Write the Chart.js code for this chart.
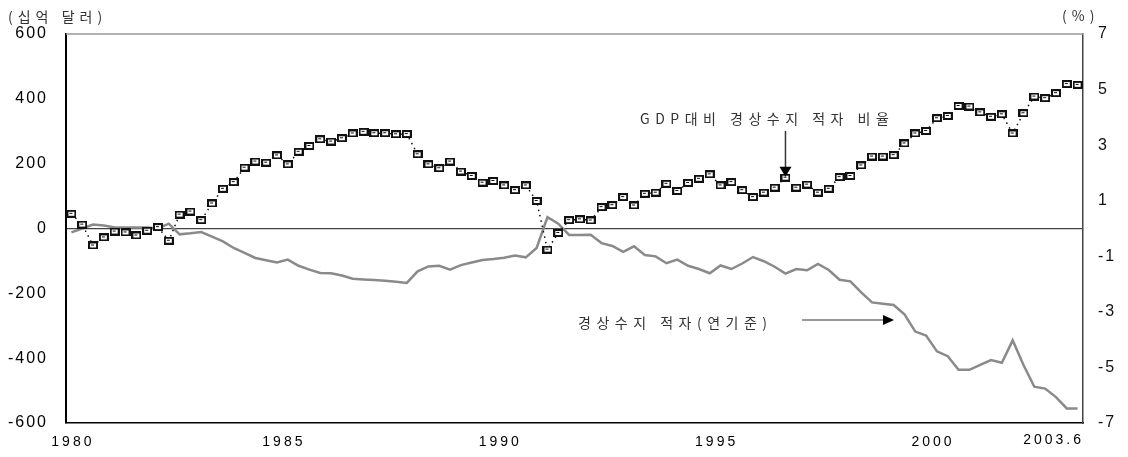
<!DOCTYPE html>
<html>
<head>
<meta charset="utf-8">
<script src="https://cdn.jsdelivr.net/npm/chart.js@4"></script>
<style>
  body { margin: 0; background: #fff; }
  canvas { display: block; }
</style>
</head>
<body>
<canvas id="chart" width="1128" height="457"></canvas>
<script>
// quarters 1980Q1 .. 2003Q2
const startYear = 1980;
const quarterCount = 94;
const quarters = [];
for (let i = 0; i < quarterCount; i++) {
    quarters.push((startYear + Math.floor(i / 4)) + 'Q' + (i % 4 + 1));
}

// 경상수지 적자(연기준), 십억 달러
const deficit = [
    -12, 0, 12, 9, 3, 3, 3, 3, 0, 15,
    -18, -15, -11, -25, -40, -60, -75, -91, -98, -105,
    -96, -115, -127, -137, -138, -145, -155, -157, -159, -161,
    -164, -168, -132, -117, -115, -127, -113, -105, -97, -94,
    -90, -83, -89, -60, 35, 15, -20, -20, -19, -45,
    -54, -72, -55, -82, -86, -107, -96, -115, -125, -138,
    -114, -125, -108, -88, -101, -118, -139, -125, -129, -109,
    -128, -158, -163, -197, -228, -232, -236, -265, -318, -330,
    -379, -394, -436, -436, -421, -406, -414, -345, -421, -488,
    -494, -520, -555, -555
];

// GDP대비 경상수지 적자 비율, %
const deficitRatio = [
    0.53, 0.14, -0.61, -0.32, -0.11, -0.14, -0.25, -0.08, 0.05, -0.44,
    0.50, 0.61, 0.30, 0.90, 1.43, 1.67, 2.19, 2.41, 2.37, 2.63,
    2.31, 2.76, 2.97, 3.21, 3.13, 3.25, 3.42, 3.48, 3.43, 3.43,
    3.39, 3.40, 2.67, 2.31, 2.17, 2.41, 2.05, 1.89, 1.65, 1.71,
    1.55, 1.38, 1.55, 0.99, -0.76, -0.16, 0.30, 0.33, 0.29, 0.77,
    0.84, 1.13, 0.83, 1.25, 1.29, 1.61, 1.35, 1.64, 1.79, 1.95,
    1.55, 1.67, 1.38, 1.13, 1.29, 1.47, 1.83, 1.47, 1.58, 1.29,
    1.43, 1.85, 1.89, 2.27, 2.59, 2.59, 2.64, 3.06, 3.42, 3.51,
    3.97, 4.05, 4.41, 4.39, 4.18, 4.02, 4.11, 3.42, 4.15, 4.75,
    4.69, 4.87, 5.20, 5.17
];

const yearLabels = ['1980', '1985', '1990', '1995', '2000'];
const lastLabel = '2003.6';
const arrowQuarter = 66; // marker the upper arrow points at

// little boxed marker used for the ratio series
function makeMarker() {
    const c = document.createElement('canvas');
    c.width = 10; c.height = 8;
    const g = c.getContext('2d');
    g.fillStyle = '#111';
    g.fillRect(0, 0, 10, 8);
    g.fillStyle = '#fff';
    g.fillRect(2, 2, 6, 4);
    g.fillStyle = '#111';
    g.fillRect(3, 3, 3, 1);
    return c;
}

const textFont = '"Noto Sans CJK KR", "Liberation Sans", sans-serif';

const decorations = {
    id: 'decorations',
    beforeDraw(chart) {
        chart.ctx.letterSpacing = '2px';
    },
    afterDraw(chart) {
        const ctx = chart.ctx;
        const area = chart.chartArea;
        const xs = chart.scales.x;
        const y1 = chart.scales.y1;
        ctx.save();

        // top frame line
        ctx.strokeStyle = '#999';
        ctx.lineWidth = 1.5;
        ctx.beginPath();
        ctx.moveTo(area.left, area.top);
        ctx.lineTo(area.right, area.top);
        ctx.stroke();

        // x labels at the start of each year
        const half = (xs.getPixelForValue(1) - xs.getPixelForValue(0)) / 2;
        ctx.font = '14px "Liberation Sans", sans-serif';
        ctx.letterSpacing = '3px';
        ctx.fillStyle = '#000';
        ctx.textBaseline = 'middle';
        ctx.textAlign = 'center';
        yearLabels.forEach(lbl => {
            const idx = (parseInt(lbl) - startYear) * 4;
            let px = xs.getPixelForValue(idx) - half;
            if (idx === 0) px = xs.getPixelForValue(0);
            ctx.fillText(lbl, px + 1.5, area.bottom + 19);
        });
        ctx.textAlign = 'right';
        ctx.fillText(lastLabel, area.right + 1, area.bottom + 17);

        // unit captions
        ctx.font = '14px ' + textFont;
        ctx.letterSpacing = '5px';
        ctx.fillStyle = '#333';
        ctx.textAlign = 'left';
        ctx.fillText('(십억 달러)', 8, 17);
        ctx.fillText('(%)', 1062, 16);

        // annotations
        ctx.letterSpacing = '5.5px';
        ctx.fillStyle = '#333';
        ctx.fillText('GDP대비 경상수지 적자 비율', 640, 119);
        ctx.fillText('경상수지 적자(연기준)', 578, 323);

        // arrow down to the ratio marker
        const ax = xs.getPixelForValue(arrowQuarter);
        const ay = y1.getPixelForValue(deficitRatio[arrowQuarter]) - 1;
        ctx.strokeStyle = '#333';
        ctx.lineWidth = 1.5;
        ctx.beginPath();
        ctx.moveTo(ax, 131);
        ctx.lineTo(ax, ay - 9);
        ctx.stroke();
        ctx.fillStyle = '#000';
        ctx.beginPath();
        ctx.moveTo(ax - 6, ay - 10);
        ctx.lineTo(ax + 6, ay - 10);
        ctx.lineTo(ax, ay);
        ctx.closePath();
        ctx.fill();

        // arrow right to the deficit line
        ctx.strokeStyle = '#777';
        ctx.beginPath();
        ctx.moveTo(802, 320);
        ctx.lineTo(884, 320);
        ctx.stroke();
        ctx.fillStyle = '#000';
        ctx.beginPath();
        ctx.moveTo(883, 315);
        ctx.lineTo(894, 320);
        ctx.lineTo(883, 325);
        ctx.closePath();
        ctx.fill();

        ctx.restore();
    }
};

const marker = makeMarker();

new Chart(document.getElementById('chart'), {
    type: 'line',
    data: {
        labels: quarters,
        datasets: [
            {
                label: 'GDP대비 경상수지 적자 비율',
                data: deficitRatio,
                yAxisID: 'y1',
                borderColor: '#111',
                borderWidth: 1.5,
                borderDash: [1.5, 4],
                pointStyle: marker,
                pointRadius: 5,
                tension: 0,
                fill: false
            },
            {
                label: '경상수지 적자(연기준)',
                data: deficit,
                yAxisID: 'y',
                borderColor: '#8a8a8a',
                borderWidth: 2.5,
                pointRadius: 0,
                tension: 0,
                fill: false
            }
        ]
    },
    options: {
        responsive: false,
        animation: false,
        layout: { padding: { top: 34, left: 0, right: 0, bottom: 0 } },
        plugins: {
            legend: { display: false },
            tooltip: { enabled: false }
        },
        scales: {
            x: {
                type: 'category',
                offset: true,
                grid: { display: false },
                border: { display: true, color: '#000', width: 1.5 },
                ticks: { display: false },
                afterFit(scale) { scale.height = 34; }
            },
            y: {
                position: 'left',
                min: -600,
                max: 600,
                grid: {
                    drawTicks: false,
                    color: c => (c.tick && c.tick.value === 0) ? '#444' : 'rgba(0,0,0,0)',
                    lineWidth: 1.2
                },
                border: { display: true, color: '#000', width: 2 },
                ticks: {
                    stepSize: 200,
                    padding: 18,
                    color: '#000',
                    font: { family: '"Liberation Sans", sans-serif', size: 16 }
                },
                afterFit(scale) { scale.width = 66; }
            },
            y1: {
                position: 'right',
                min: -7,
                max: 7,
                grid: { display: false, drawTicks: false },
                border: { display: true, color: '#444', width: 1.5 },
                ticks: {
                    stepSize: 2,
                    padding: 15,
                    color: '#111',
                    font: { family: '"Liberation Sans", sans-serif', size: 16 }
                },
                afterFit(scale) { scale.width = 45; }
            }
        }
    },
    plugins: [decorations]
});
</script>
</body>
</html>
